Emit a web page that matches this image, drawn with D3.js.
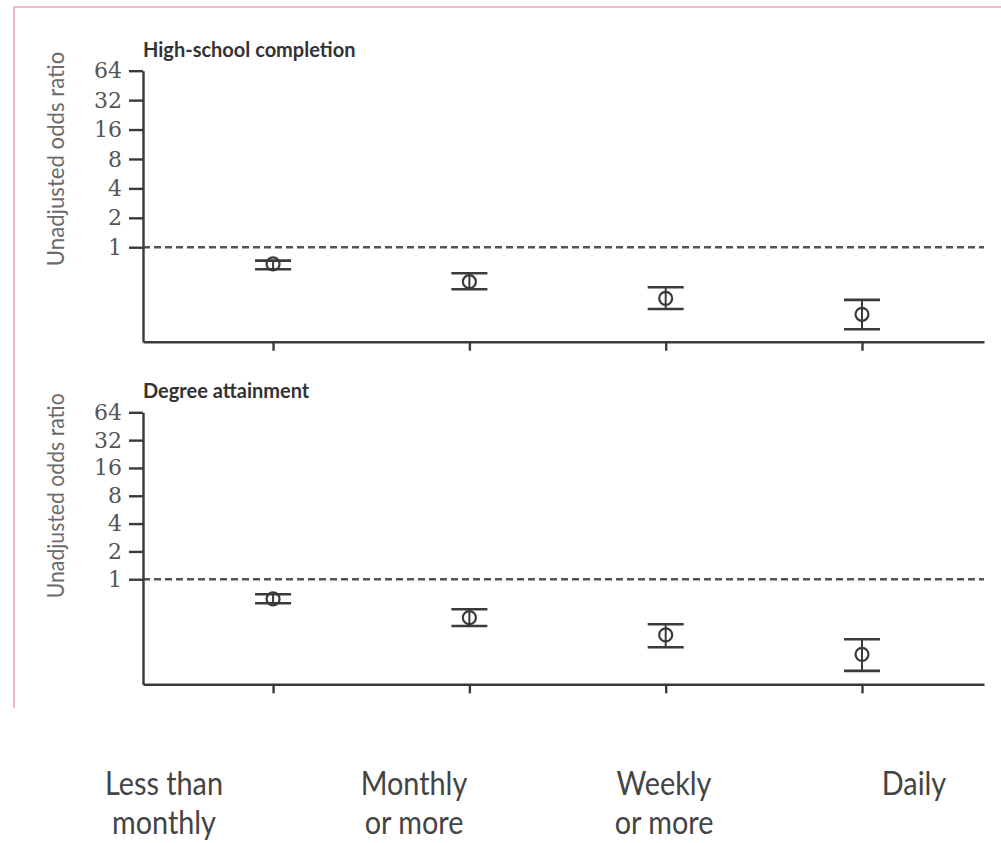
<!DOCTYPE html>
<html>
<head>
<meta charset="utf-8">
<script src="https://cdn.jsdelivr.net/npm/d3@7"></script>
<style>
  body { margin: 0; background: #fff; }
</style>
</head>
<body>
<div id="chart"></div>
<script>
// categories along the bottom
var categories = ["Less than monthly", "Monthly or more", "Weekly or more", "Daily"];
var categoryLines = [["Less than", "monthly"], ["Monthly", "or more"], ["Weekly", "or more"], ["Daily"]];

var titles = ["High-school completion", "Degree attainment"];

// unadjusted odds ratios, with lower and upper 95% CI
var hsOR   = [0.675, 0.444, 0.300, 0.206];
var hsLow  = [0.595, 0.372, 0.233, 0.145];
var hsHigh = [0.729, 0.542, 0.390, 0.289];

var degOR   = [0.612, 0.384, 0.250, 0.154];
var degLow  = [0.550, 0.312, 0.184, 0.102];
var degHigh = [0.688, 0.474, 0.326, 0.224];

var yTicks = [1, 2, 4, 8, 16, 32, 64];
var yMins = [0.108, 0.073];

var W = 1001, H = 843;
var x0 = 143, x1 = 984;
var panelTop = [70.7, 412.3], panelBottom = [341.7, 684.3];

var ink = "#3a3a3a";

var svg = d3.select("#chart").append("svg")
	.attr("width", W)
	.attr("height", H);

// pink frame (top + left)
svg.append("path")
	.attr("d", "M14,708V7H" + W)
	.attr("fill", "none")
	.attr("stroke", "#e6a9b7")
	.attr("stroke-width", 1.6);

var x = d3.scalePoint()
	.domain(categories)
	.range([x0, x1])
	.padding(0.642)
	.align(0.516);

var series = [
	{or: hsOR, low: hsLow, high: hsHigh},
	{or: degOR, low: degLow, high: degHigh}
];

for (var p = 0; p < 2; p++) {
	var y = d3.scaleLog()
		.base(2)
		.domain([yMins[p], 64])
		.range([panelBottom[p], panelTop[p]]);

	var g = svg.append("g");

	// title
	g.append("text")
		.attr("x", x0)
		.attr("y", y(64) - 14)
		.attr("font-family", "Lato, 'Open Sans', sans-serif")
		.attr("font-weight", "bold")
		.attr("font-size", 20)
		.attr("fill", "#333")
		.text(titles[p]);

	// y axis title
	g.append("text")
		.attr("transform", "translate(64," + ((y(64) + y(1)) / 2) + ") rotate(-90)")
		.attr("text-anchor", "middle")
		.attr("font-family", "Lato, sans-serif")
		.attr("font-size", 23)
		.attr("fill", "#6a6a6a")
		.attr("textLength", y(1) - y(64) + 38)
		.attr("lengthAdjust", "spacingAndGlyphs")
		.text("Unadjusted odds ratio");

	// reference line at 1
	g.append("line")
		.attr("x1", x0).attr("x2", x1)
		.attr("y1", y(1)).attr("y2", y(1))
		.attr("stroke", "#555")
		.attr("stroke-width", 2.6)
		.attr("stroke-dasharray", "7,4");

	var yAxis = g.append("g")
		.attr("transform", "translate(" + x0 + ",0)")
		.call(d3.axisLeft(y).tickValues(yTicks).tickFormat(d3.format("d"))
			.tickSize(14).tickSizeOuter(0).tickPadding(7));
	yAxis.selectAll("path, line").attr("stroke", ink).attr("stroke-width", 2.4);
	yAxis.selectAll("text")
		.attr("font-family", "'DejaVu Serif', serif")
		.attr("font-size", 22)
		.attr("fill", "#555");

	var xAxis = g.append("g")
		.attr("transform", "translate(0," + panelBottom[p] + ")")
		.call(d3.axisBottom(x).tickSize(9).tickSizeOuter(0).tickFormat(""));
	xAxis.selectAll("path, line").attr("stroke", ink).attr("stroke-width", 2.4);

	var s = series[p];
	var pts = categories.map(function(c, i) {
		return {c: c, or: s.or[i], low: s.low[i], high: s.high[i]};
	});

	var pt = g.selectAll("g.pt")
		.data(pts)
		.enter()
		.append("g")
		.attr("class", "pt");

	pt.append("line")
		.attr("x1", function(d) { return x(d.c); })
		.attr("x2", function(d) { return x(d.c); })
		.attr("y1", function(d) { return y(d.low); })
		.attr("y2", function(d) { return y(d.high); })
		.attr("stroke", ink).attr("stroke-width", 2);

	[ "low", "high" ].forEach(function(k) {
		pt.append("line")
			.attr("x1", function(d) { return x(d.c) - 18; })
			.attr("x2", function(d) { return x(d.c) + 18; })
			.attr("y1", function(d) { return y(d[k]); })
			.attr("y2", function(d) { return y(d[k]); })
			.attr("stroke", ink).attr("stroke-width", 2.6);
	});

	pt.append("circle")
		.attr("cx", function(d) { return x(d.c); })
		.attr("cy", function(d) { return y(d.or); })
		.attr("r", 6.5)
		.attr("fill", "none")
		.attr("stroke", ink)
		.attr("stroke-width", 2.2);
}

// category labels under the frame
var lx = d3.scalePoint()
	.domain(categories)
	.range([164, 914]);

var baselines = [795, 834];

categories.forEach(function(c, i) {
	categoryLines[i].forEach(function(line, j) {
		var t = svg.append("text")
			.attr("x", lx(c))
			.attr("y", baselines[j])
			.attr("text-anchor", "middle")
			.attr("font-family", "Lato, sans-serif")
			.attr("font-size", 32)
			.attr("fill", "#444")
			.text(line);
		t.attr("textLength", t.node().getComputedTextLength() * 0.9)
			.attr("lengthAdjust", "spacingAndGlyphs");
	});
});
</script>
</body>
</html>
